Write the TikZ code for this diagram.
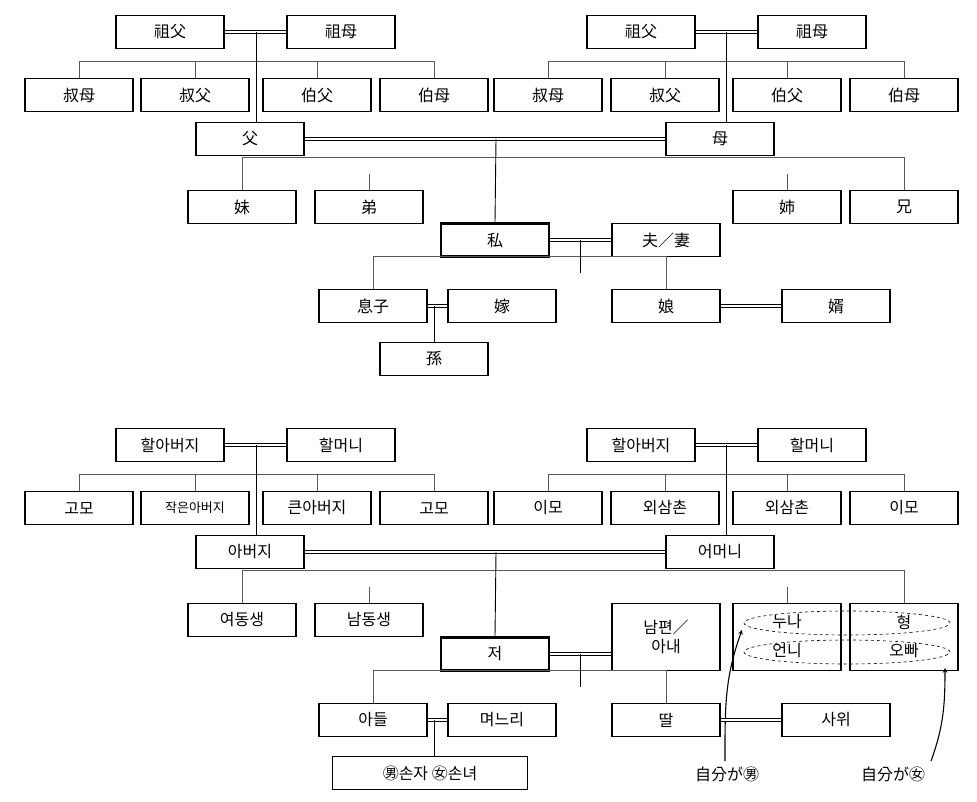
\documentclass[tikz,border=0pt]{standalone}
\usepackage{fontspec}
\setmainfont{Noto Sans CJK KR}
\begin{document}
\begin{tikzpicture}[x=1pt,y=-1pt,
  box/.style={draw,line width=1.1pt,minimum width=108pt,minimum height=33pt,inner sep=1pt,font=\fontsize{16}{19}\selectfont},
  me/.style={box,line width=2.2pt},
  wed/.style={double=white,double distance=2.6pt,line width=1.1pt},
  kin/.style={gray!70!black,line width=0.6pt},
  txt/.style={font=\fontsize{16}{19}\selectfont},
  down/.style={line width=0.9pt}]
\useasboundingbox (0,0) rectangle (977,802);
	%Japanese chart
\node[box] (gf1) at (170,32) {祖父};  \node[box] (gm1) at (341,32) {祖母};
\node[box] (gf2) at (641,32) {祖父};  \node[box] (gm2) at (812,32) {祖母};
\node[box] (a1) at (79,95) {叔母};  \node[box] (a2) at (195,95) {叔父};
\node[box] (a3) at (317,95) {伯父}; \node[box] (a4) at (434,95) {伯母};
\node[box] (b1) at (548,95) {叔母}; \node[box] (b2) at (665,95) {叔父};
\node[box] (b3) at (787,95) {伯父}; \node[box] (b4) at (904,95) {伯母};
\node[box] (fa) at (250,139) {父};  \node[box] (mo) at (720,139) {母};
\node[box] (s1) at (242,207) {妹};  \node[box] (s2) at (369,207) {弟};
\node[box] (s3) at (787,207) {姉};  \node[box] (s4) at (904,207) {兄};
\node[me] (ego) at (495,240) {私};  \node[box] (sp) at (666,240) {夫／妻};
\node[box] (c1) at (373,306) {息子}; \node[box] (c2) at (502,306) {嫁};
\node[box] (c3) at (666,306) {娘};  \node[box] (c4) at (836,306) {婿};
\node[box] (gc) at (434,359) {孫};
	%Couples
\draw[wed] (gf1) -- (gm1); \draw[wed] (gf2) -- (gm2);
\draw[wed] (fa) -- (mo);   \draw[wed] (ego) -- (sp);
\draw[wed] (c1) -- (c2);   \draw[wed] (c3) -- (c4);
	%Siblings
\draw[kin] (a1.north) -- ++(0,-17) -| (a4.north);
\draw[kin] (a2.north) -- ++(0,-17); \draw[kin] (a3.north) -- ++(0,-17);
\draw[kin] (b1.north) -- ++(0,-17) -| (b4.north);
\draw[kin] (b2.north) -- ++(0,-17); \draw[kin] (b3.north) -- ++(0,-17);
\draw[kin] (s1.north) -- ++(0,-33) -| (s4.north);
\draw[kin] (s2.north) -- ++(0,-16); \draw[kin] (s3.north) -- ++(0,-16);
\draw[kin] (c1.north) -- ++(0,-33) -| (c3.north);
	%Descent
\draw[down] (256,32) -- (256,122.5); \draw[down] (726,32) -- (726,122.5);
\draw[down] (496,139) -- (ego.north); \draw[down] (580,240) -- (580,273);
\draw[down] (434,306) -- (gc.north);
	%Korean chart
\node[box] (hf1) at (170,445) {할아버지};  \node[box] (hm1) at (341,445) {할머니};
\node[box] (hf2) at (641,445) {할아버지};  \node[box] (hm2) at (812,445) {할머니};
\node[box] (k1) at (79,508) {고모};  \node[box] (k2) at (195,508) {\fontsize{13}{15}\selectfont 작은아버지};
\node[box] (k3) at (317,508) {큰아버지}; \node[box] (k4) at (434,508) {고모};
\node[box] (m1) at (548,508) {이모}; \node[box] (m2) at (665,508) {외삼촌};
\node[box] (m3) at (787,508) {외삼촌}; \node[box] (m4) at (904,508) {이모};
\node[box] (abj) at (250,552) {아버지};  \node[box] (emn) at (720,552) {어머니};
\node[box] (t1) at (242,620) {여동생};  \node[box] (t2) at (369,620) {남동생};
\node[box,minimum height=67pt] (t3) at (787,637) {};
\node[box,minimum height=67pt] (t4) at (904,637) {};
\node[me] (jeo) at (495,654) {저};
\node[box,minimum height=67pt,align=center] (nam) at (666,637) {남편／\\아내};
\node[box] (d1) at (373,720) {아들}; \node[box] (d2) at (502,720) {며느리};
\node[box] (d3) at (666,720) {딸};  \node[box] (d4) at (836,720) {사위};
\node[box,minimum width=195pt] (sonja) at (430,773) {㊚손자 ㊛손녀};
	%Older siblings
\node[txt] (nuna) at (787,622) {누나};
\node[txt] (eonni) at (787,651) {언니};
\node[txt] (hyeong) at (904,622) {형};
\node[txt] (oppa) at (904,651) {오빠};
\draw[dashed,line width=0.6pt] (847,623) ellipse [x radius=103pt,y radius=12pt];
\draw[dashed,line width=0.6pt] (847,652) ellipse [x radius=103pt,y radius=12pt];
\node[txt] (forM) at (727,774) {自分が㊚};
\node[txt] (forF) at (893,774) {自分が㊛};
\draw[->,line width=1.1pt,>=stealth] (forM.north) ++(-2,-2) to[out=90,in=250] (742,630);
\draw[->,line width=1.1pt,>=stealth] (forF.north) ++(38,-2) to[out=70,in=270] (945,668);
	%Couples
\draw[wed] (hf1) -- (hm1); \draw[wed] (hf2) -- (hm2);
\draw[wed] (abj) -- (emn); \draw[wed] (jeo) -- (jeo-|nam.west);
\draw[wed] (d1) -- (d2);   \draw[wed] (d3) -- (d4);
	%Siblings
\draw[kin] (k1.north) -- ++(0,-17) -| (k4.north);
\draw[kin] (k2.north) -- ++(0,-17); \draw[kin] (k3.north) -- ++(0,-17);
\draw[kin] (m1.north) -- ++(0,-17) -| (m4.north);
\draw[kin] (m2.north) -- ++(0,-17); \draw[kin] (m3.north) -- ++(0,-17);
\draw[kin] (t1.north) -- ++(0,-33) -| (t4.north);
\draw[kin] (t2.north) -- ++(0,-16); \draw[kin] (t3.north) -- ++(0,-16);
\draw[kin] (d1.north) -- ++(0,-33) -| (d3.north);
	%Descent
\draw[down] (256,445) -- (256,535.5); \draw[down] (726,445) -- (726,535.5);
\draw[down] (496,552) -- (jeo.north); \draw[down] (580,654) -- (580,687);
\draw[down] (434,720) -- (434,756.5);
\end{tikzpicture}
\end{document}
